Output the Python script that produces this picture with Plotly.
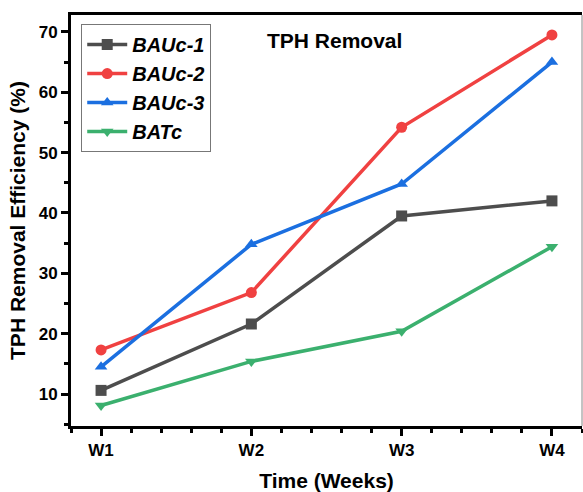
import plotly.graph_objects as go

weeks = ["W1", "W2", "W3", "W4"]
x_pos = [0, 1, 2, 3]
bauc1 = [10.6, 21.6, 39.5, 42.0]
bauc2 = [17.3, 26.8, 54.2, 69.5]
bauc3 = [14.5, 34.8, 44.8, 65.0]
batc = [8.1, 15.4, 20.4, 34.4]

series = [
    ("BAUc-1", bauc1, "#4d4d4d", "square"),
    ("BAUc-2", bauc2, "#f04141", "circle"),
    ("BAUc-3", bauc3, "#1b6fe0", "triangle-up"),
    ("BATc", batc, "#3bb06e", "triangle-down"),
]

fig = go.Figure()
for name, vals, col, sym in series:
    fig.add_trace(go.Scatter(
        x=x_pos, y=vals, name=f"<b><i>{name}</i></b>", mode="lines+markers",
        line=dict(color=col, width=3.5),
        marker=dict(symbol=sym, size=11, color=col),
    ))

font = "Liberation Sans, Arial, sans-serif"
fig.update_layout(
    width=583, height=492,
    margin=dict(l=71, r=1, t=15, b=63),
    plot_bgcolor="white", paper_bgcolor="white",
    font=dict(family=font, color="black"),
    showlegend=True,
    legend=dict(
        x=0.02, y=0.978, xanchor="left", yanchor="top",
        bordercolor="#777777", borderwidth=1, bgcolor="white",
        font=dict(size=20, family=font, color="black"),
        tracegroupgap=0, itemwidth=40,
    ),
    xaxis=dict(
        range=[-0.2, 3.2], tickvals=x_pos, ticktext=weeks,
        showgrid=False, zeroline=False,
        showline=True, linecolor="black", linewidth=3, mirror=True,
        ticks="outside", ticklen=7, tickwidth=3, tickcolor="black",
        minor=dict(dtick=0.2, tick0=0, ticks="outside", ticklen=4, tickwidth=3, tickcolor="black"),
        tickfont=dict(size=17, family=font, color="black", weight="bold"),
        title=dict(text="<b>Time (Weeks)</b>", font=dict(size=21, family=font, color="black"), standoff=16),
    ),
    yaxis=dict(
        range=[4.7, 72.8], tickvals=[10, 20, 30, 40, 50, 60, 70],
        showgrid=False, zeroline=False,
        showline=True, linecolor="black", linewidth=3, mirror=False,
        ticks="outside", ticklen=7, tickwidth=3, tickcolor="black",
        minor=dict(dtick=5, tick0=0, ticks="outside", ticklen=4, tickwidth=3, tickcolor="black"),
        tickfont=dict(size=17, family=font, color="black", weight="bold"),
        title=dict(text="<b>TPH Removal Efficiency (%)</b>", font=dict(size=21, family=font, color="black"), standoff=8),
    ),
    shapes=[dict(type="line", xref="paper", yref="paper", x0=1, x1=1, y0=0, y1=1,
                 line=dict(color="#888888", width=1))],
    annotations=[dict(text="<b>TPH Removal</b>", xref="paper", yref="paper",
                      x=0.515, y=0.972, showarrow=False,
                      font=dict(size=21, family=font, color="black"))],
)

fig.write_html("out.html")
